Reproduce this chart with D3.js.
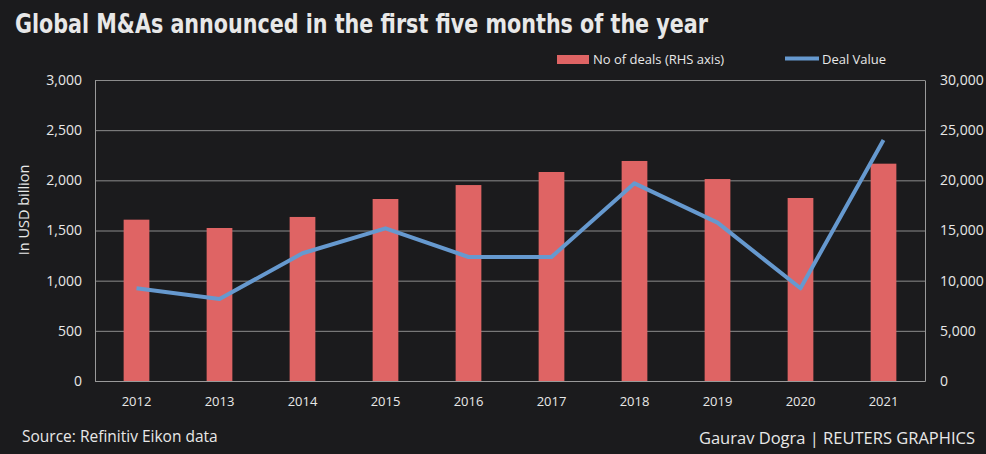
<!DOCTYPE html>
<html>
<head>
<meta charset="utf-8">
<script src="https://cdn.jsdelivr.net/npm/d3@7"></script>
<style>
  body { margin: 0; background: #1b1b1d; }
  svg { display: block; }
  text { fill: #e8e8e8; }
</style>
</head>
<body>
<div id="chart"></div>
<script>
// data
var years = ["2012", "2013", "2014", "2015", "2016", "2017", "2018", "2019", "2020", "2021"];
var deals = [16080, 15250, 16350, 18140, 19530, 20830, 21930, 20130, 18240, 21660];   // right axis
var dealValue = [925, 818, 1273, 1522, 1236, 1236, 1970, 1578, 924, 2402];           // left axis, USD bn
var leftTicks = [0, 500, 1000, 1500, 2000, 2500, 3000];
var rightTicks = [0, 5000, 10000, 15000, 20000, 25000, 30000];

var svgWidth = 986;
var svgHeight = 454;

var margin = { top: 80, right: 61, bottom: 73, left: 95 };
var width = svgWidth - margin.left - margin.right;
var height = svgHeight - margin.top - margin.bottom;

var svg = d3.select("#chart")
  .append("svg")
  .attr("width", svgWidth)
  .attr("height", svgHeight);

svg.append("rect")
  .attr("width", svgWidth)
  .attr("height", svgHeight)
  .attr("fill", "#1b1b1d");

var chartGroup = svg.append("g")
  .attr("transform", `translate(${margin.left}, ${margin.top})`);

// scales
var xScale = d3.scaleBand()
  .domain(years)
  .range([0, width]);

var yLeft = d3.scaleLinear()
  .domain([0, 3000])
  .range([height, 0]);

var yRight = d3.scaleLinear()
  .domain([0, 30000])
  .range([height, 0]);

// gridlines
chartGroup.append("g")
  .selectAll("line")
  .data(leftTicks)
  .enter()
  .append("line")
  .attr("x1", 0)
  .attr("x2", width)
  .attr("y1", d => yLeft(d) + 0.5)
  .attr("y2", d => yLeft(d) + 0.5)
  .attr("stroke", "#8c8c8c")
  .attr("stroke-width", 1);

// bars
var barW = xScale.bandwidth() * 0.31;
chartGroup.selectAll(".bar")
  .data(deals)
  .enter()
  .append("rect")
  .attr("class", "bar")
  .attr("x", (d, i) => xScale(years[i]) + xScale.bandwidth() / 2 - barW / 2)
  .attr("y", d => yRight(d))
  .attr("width", barW)
  .attr("height", d => height - yRight(d))
  .attr("fill", "#df6464");

// axes frame
var leftAxis = d3.axisLeft(yLeft).tickValues(leftTicks).tickSize(0).tickPadding(13)
  .tickFormat(d3.format(","));
var rightAxis = d3.axisRight(yRight).tickValues(rightTicks).tickSize(0).tickPadding(15)
  .tickFormat(d3.format(","));
var bottomAxis = d3.axisBottom(xScale).tickSize(0).tickPadding(16);

function styleAxis(size) {
  return function(g) {
    g.select(".domain").attr("stroke", "#9a9a9a");
    g.selectAll("text")
      .style("font-family", "'Open Sans', 'DejaVu Sans', sans-serif")
      .style("font-size", size)
      .attr("fill", "#e8e8e8");
  };
}

chartGroup.append("g").call(leftAxis).call(styleAxis("14px"));
chartGroup.append("g").attr("transform", `translate(${width}, 0)`).call(rightAxis).call(styleAxis("14px"));
chartGroup.append("g").attr("transform", `translate(0, ${height})`).call(bottomAxis).call(styleAxis("13px"));

// line
var line = d3.line()
  .x((d, i) => xScale(years[i]) + xScale.bandwidth() / 2)
  .y(d => yLeft(d));

chartGroup.append("path")
  .datum(dealValue)
  .attr("d", line)
  .attr("fill", "none")
  .attr("stroke", "#6699cf")
  .attr("stroke-width", 4)
  .attr("stroke-linejoin", "round");

// title
svg.append("text")
  .attr("x", 15)
  .attr("y", 33)
  .attr("textLength", 693)
  .attr("lengthAdjust", "spacingAndGlyphs")
  .style("font-family", "'Liberation Sans Narrow', 'DejaVu Sans Condensed', sans-serif")
  .style("font-weight", "bold")
  .style("font-size", "27px")
  .attr("fill", "#ffffff")
  .text("Global M&As announced in the first five months of the year");

// legend
var legend = svg.append("g").style("font-family", "'Open Sans', 'DejaVu Sans', sans-serif").style("font-size", "13px");
legend.append("rect").attr("x", 557).attr("y", 55).attr("width", 32).attr("height", 9).attr("fill", "#df6464");
legend.append("text").attr("x", 593).attr("y", 64).text("No of deals (RHS axis)");
legend.append("line").attr("x1", 785).attr("x2", 819).attr("y1", 58.5).attr("y2", 58.5)
  .attr("stroke", "#6699cf").attr("stroke-width", 4);
legend.append("text").attr("x", 822).attr("y", 64).text("Deal Value");

// y axis label
svg.append("text")
  .attr("transform", "translate(29, 210) rotate(-90)")
  .attr("text-anchor", "middle")
  .style("font-family", "'Open Sans', 'DejaVu Sans', sans-serif")
  .style("font-size", "14.5px")
  .text("In USD billion");

// footer
svg.append("text")
  .attr("x", 22)
  .attr("y", 442)
  .style("font-family", "'Open Sans', 'DejaVu Sans', sans-serif")
  .style("font-size", "15.5px")
  .text("Source: Refinitiv Eikon data");

svg.append("text")
  .attr("x", 975)
  .attr("y", 444)
  .attr("text-anchor", "end")
  .style("font-family", "'Open Sans', 'DejaVu Sans', sans-serif")
  .style("font-size", "16.5px")
  .attr("fill", "#d8d8d8")
  .text("Gaurav Dogra | REUTERS GRAPHICS");
</script>
</body>
</html>
